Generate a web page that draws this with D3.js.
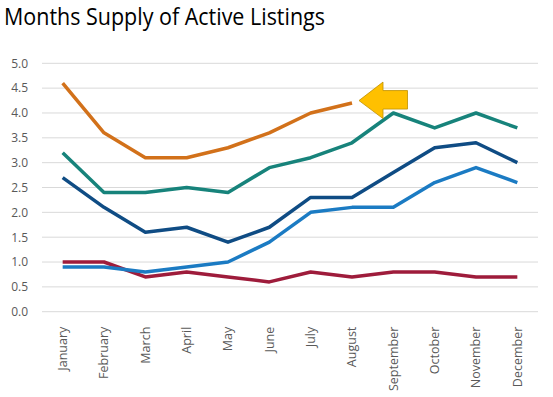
<!DOCTYPE html>
<html>
<head>
<meta charset="utf-8">
<script src="https://cdn.jsdelivr.net/npm/d3@7"></script>
<style>
  body { margin: 0; background: #fff; }
  svg { display: block; }
</style>
</head>
<body>
<script>
var months = ["January", "February", "March", "April", "May", "June", "July", "August", "September", "October", "November", "December"];
var yTicks = [0, 0.5, 1, 1.5, 2, 2.5, 3, 3.5, 4, 4.5, 5];

// series
var orangeSeries = [4.6, 3.6, 3.1, 3.1, 3.3, 3.6, 4.0, 4.2];
var tealSeries = [3.2, 2.4, 2.4, 2.5, 2.4, 2.9, 3.1, 3.4, 4.0, 3.7, 4.0, 3.7];
var navySeries = [2.7, 2.1, 1.6, 1.7, 1.4, 1.7, 2.3, 2.3, 2.8, 3.3, 3.4, 3.0];
var blueSeries = [0.9, 0.9, 0.8, 0.9, 1.0, 1.4, 2.0, 2.1, 2.1, 2.6, 2.9, 2.6];
var redSeries = [1.0, 1.0, 0.7, 0.8, 0.7, 0.6, 0.8, 0.7, 0.8, 0.8, 0.7, 0.7];

var series = [
  {values: redSeries, color: "#9e1c3b"},
  {values: blueSeries, color: "#1b7bc3"},
  {values: navySeries, color: "#0f4c84"},
  {values: tealSeries, color: "#17837b"},
  {values: orangeSeries, color: "#d2711a"}
];

var width = 553, height = 397;
var margin = {top: 63.3, right: 15, bottom: 85.3, left: 42};

var svg = d3.select("body").append("svg")
    .attr("width", width)
    .attr("height", height);

svg.append("text")
    .attr("x", 4)
    .attr("y", 25)
    .attr("textLength", 321)
    .attr("lengthAdjust", "spacingAndGlyphs")
    .style("font-family", "'Open Sans', sans-serif")
    .style("font-size", "23px")
    .style("fill", "#000")
    .text("Months Supply of Active Listings");

var xScale = d3.scaleBand()
    .domain(months)
    .range([margin.left, width - margin.right]);

var yScale = d3.scaleLinear()
    .domain([0, 5])
    .range([height - margin.bottom, margin.top]);

// gridlines
svg.append("g")
    .selectAll("line")
    .data(yTicks)
    .enter().append("line")
    .attr("x1", margin.left)
    .attr("x2", width - margin.right)
    .attr("y1", function(d){ return yScale(d); })
    .attr("y2", function(d){ return yScale(d); })
    .style("stroke", "#d9d9d9")
    .style("stroke-width", 1);

// y axis
var yAxis = d3.axisLeft(yScale)
    .tickValues(yTicks)
    .tickFormat(d3.format(".1f"))
    .tickSize(0)
    .tickPadding(14);

var yGuide = svg.append("g")
    .attr("transform", "translate(" + margin.left + ",0)");
yAxis(yGuide);
yGuide.select(".domain").remove();
yGuide.selectAll("text")
    .style("font-family", "'Open Sans', sans-serif")
    .style("font-size", "12px")
    .style("fill", "#595959");

// x axis
var xAxis = d3.axisBottom(xScale).tickSize(0).tickPadding(0);
var xGuide = svg.append("g")
    .attr("transform", "translate(0," + (height - margin.bottom) + ")");
xAxis(xGuide);
xGuide.select(".domain").remove();
xGuide.selectAll("text")
    .attr("transform", "rotate(-90)")
    .attr("x", -15)
    .attr("y", 0)
    .attr("dy", "0.35em")
    .style("text-anchor", "end")
    .style("font-family", "'Open Sans', sans-serif")
    .style("font-size", "12.5px")
    .style("fill", "#595959");

var line = d3.line()
    .x(function(d, i){ return xScale(months[i]) + xScale.bandwidth() / 2; })
    .y(function(d){ return yScale(d); });

svg.append("g")
    .selectAll("path")
    .data(series)
    .enter().append("path")
    .attr("d", function(d){ return line(d.values); })
    .style("fill", "none")
    .style("stroke", function(d){ return d.color; })
    .style("stroke-width", 3.5)
    .style("stroke-linejoin", "round");

// callout arrow pointing at the latest orange value
var tipX = xScale("August") + xScale.bandwidth() / 2 + 7;
var tipY = yScale(4.25);
var arrow = [
  [0, 0], [24, -18.5], [24, -10], [48.5, -10], [48.5, 8.5], [24, 8.5], [24, 18], [0, 0]
];
svg.append("path")
    .attr("d", d3.line()(arrow.map(function(p){ return [tipX + p[0], tipY + p[1]]; })))
    .style("fill", "#ffc000")
    .style("stroke", "#bf9000")
    .style("stroke-width", 0.8);
</script>
</body>
</html>
